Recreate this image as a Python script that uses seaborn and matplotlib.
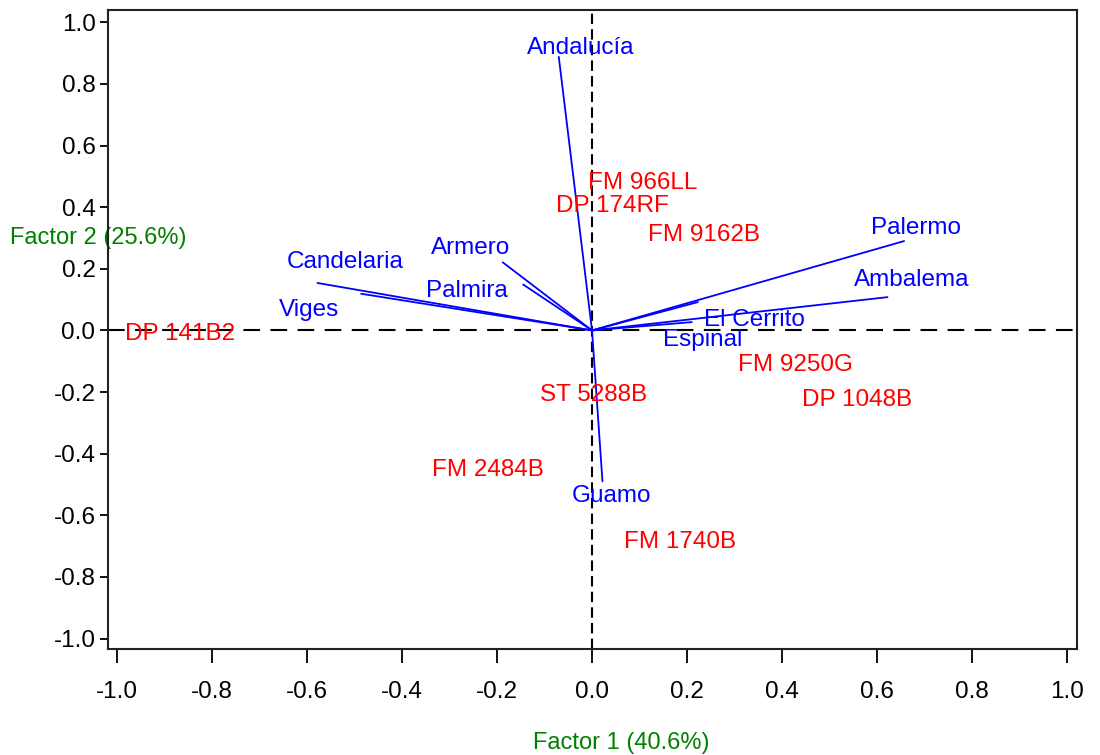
import pandas as pd
import numpy as np
import matplotlib
matplotlib.use('Agg')
import matplotlib.pyplot as plt
import seaborn as sns

sns.set_theme(style='white')
plt.rcParams['font.family'] = ['Liberation Sans', 'DejaVu Sans']

# environment vectors (loadings)
sites = ['Andalucía', 'Armero', 'Palmira', 'Candelaria', 'Viges',
         'Palermo', 'Ambalema', 'El Cerrito', 'Espinal', 'Guamo']
site_x = [-0.070, -0.188, -0.145, -0.578, -0.486, 0.657, 0.622, 0.223, 0.210, 0.022]
site_y = [0.888, 0.221, 0.149, 0.154, 0.119, 0.290, 0.108, 0.092, 0.027, -0.490]
# where the site names sit
site_lab_x = [-0.024, -0.256, -0.263, -0.519, -0.595, 0.683, 0.672, 0.341, 0.234, 0.042]
site_lab_y = [0.924, 0.276, 0.137, 0.231, 0.075, 0.341, 0.172, 0.042, -0.023, -0.530]

# genotype scores
genos = ['DP 141B2', 'FM 966LL', 'DP 174RF', 'FM 9162B', 'FM 9250G',
         'DP 1048B', 'ST 5288B', 'FM 2484B', 'FM 1740B']
geno_x = [-0.868, 0.107, 0.043, 0.235, 0.429, 0.558, 0.004, -0.220, 0.185]
geno_y = [-0.003, 0.488, 0.413, 0.319, -0.104, -0.218, -0.202, -0.446, -0.680]

ticks = [-1.0, -0.8, -0.6, -0.4, -0.2, 0.0, 0.2, 0.4, 0.6, 0.8, 1.0]

# long form table: each vector goes origin -> loading
vec = pd.DataFrame({
    'site': sites * 2,
    'x': [0.0] * len(sites) + site_x,
    'y': [0.0] * len(sites) + site_y,
})

fig = plt.figure(figsize=(11, 7.55), dpi=100)
ax = fig.add_axes([108 / 1100, 1 - 649 / 755, 969 / 1100, 639 / 755])

ax.axhline(0, color='black', lw=1.5, dashes=(8, 5), zorder=1)
ax.axvline(0, color='black', lw=1.5, dashes=(5, 2.5), zorder=1)

sns.lineplot(data=vec, x='x', y='y', units='site', estimator=None, sort=False,
             color='#0000ff', lw=1.3, ax=ax, zorder=2)

for name, lx, ly in zip(sites, site_lab_x, site_lab_y):
    ax.text(lx, ly, name, color='#0000ff', fontsize=17.5, ha='center', va='center_baseline', zorder=3)
for name, gx, gy in zip(genos, geno_x, geno_y):
    ax.text(gx, gy, name, color='#ff0000', fontsize=17.5, ha='center', va='center_baseline', zorder=3)

ax.set_xlim(-1.019, 1.021)
ax.set_ylim(-1.034, 1.04)
ax.set_xticks(ticks)
ax.set_yticks(ticks)
ax.set_xticklabels([f'{t:.1f}' for t in ticks])
ax.set_yticklabels([f'{t:.1f}' for t in ticks])
ax.tick_params(axis='x', direction='out', length=10, width=1.3, pad=13, labelsize=17.5, colors='black')
ax.tick_params(axis='y', direction='out', length=6, width=1.3, pad=3, labelsize=17.5, colors='black')
ax.tick_params(bottom=True, left=True)
for s in ax.spines.values():
    s.set_color('#222222')
    s.set_linewidth(1.5)

ax.set_xlabel('Factor 1 (40.6%)', color='#008000', fontsize=17)
ax.set_ylabel('Factor 2 (25.6%)', color='#008000', fontsize=17, rotation=0)
ax.xaxis.set_label_coords(0.530, -0.147)
ax.yaxis.set_label_coords(-0.0103, 0.643)
ax.xaxis.label.set_ha('center')
ax.xaxis.label.set_va('center')
ax.yaxis.label.set_ha('center')
ax.yaxis.label.set_va('center')

fig.savefig('out.png', dpi=100)
